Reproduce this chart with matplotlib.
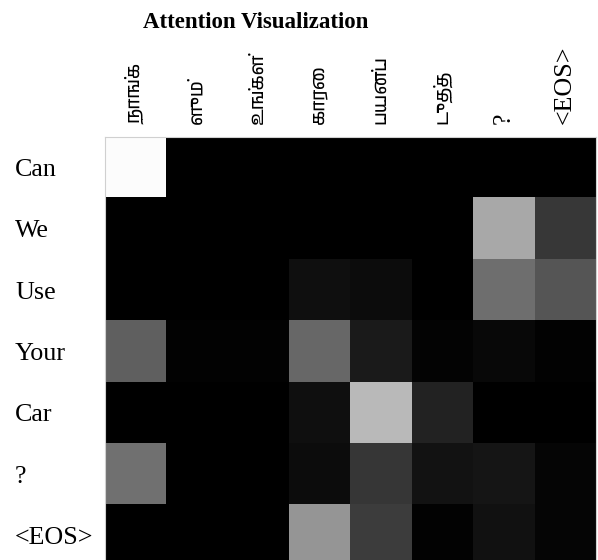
import matplotlib
matplotlib.use('Agg')
import matplotlib.pyplot as plt
from matplotlib import font_manager
import numpy as np

rows = ["Can", "We", "Use", "Your", "Car", "?", "<EOS>"]
cols = ["நாங்க", "ளும்", "உங்கள்", "காரை", "பயன்ப", "டுத்த", "?", "<EOS>"]
# grey level of each cell (0-255)
attention_levels = [
    [252, 0, 0, 0, 0, 0, 0, 0],
    [0, 0, 0, 0, 0, 0, 168, 55],
    [0, 0, 0, 15, 12, 0, 110, 85],
    [95, 2, 2, 103, 26, 3, 8, 2],
    [0, 0, 0, 15, 185, 34, 0, 0],
    [112, 0, 0, 12, 54, 18, 21, 5],
    [0, 0, 0, 149, 60, 2, 17, 5],
]
title = "Attention Visualization"

attention = np.array(attention_levels, dtype=float) / 255.0

tamil = sorted({f.name for f in font_manager.fontManager.ttflist
                if 'tamil' in f.name.lower() or 'lohit' in f.name.lower()})
families = ['Liberation Serif'] + tamil[:1] + ['DejaVu Sans']

W, H = 598, 560
fig = plt.figure(figsize=(W / 100, H / 100), dpi=100)
ax = fig.add_axes([104.5 / W, -6 / H, 491 / W, 429 / H])
ax.imshow(attention, cmap='gray', vmin=0, vmax=1, aspect='auto',
          interpolation='nearest')

ax.xaxis.tick_top()
ax.set_xticks(range(len(cols)))
ax.set_xticklabels(cols, rotation=90, fontsize=18.7, family=families)
for lab in ax.get_xticklabels():
    if any('\u0b80' <= ch <= '\u0bff' for ch in lab.get_text()):
        lab.set_fontsize(13.5)
ax.set_yticks(range(len(rows)))
ax.set_yticklabels(rows, fontsize=18.7, family=families)
for lab in ax.get_yticklabels():
    lab.set_horizontalalignment('left')
ax.tick_params(axis='x', length=0, pad=9)
ax.tick_params(axis='y', length=0, pad=64.4)
for s in ax.spines.values():
    s.set_color('#d0d0d0')
    s.set_linewidth(0.8)

fig.text(256 / W, 1 - 22 / H, title, ha='center', va='center',
         fontsize=16.5, fontweight='bold', family='Liberation Serif')

fig.savefig('out.png', dpi=100)
